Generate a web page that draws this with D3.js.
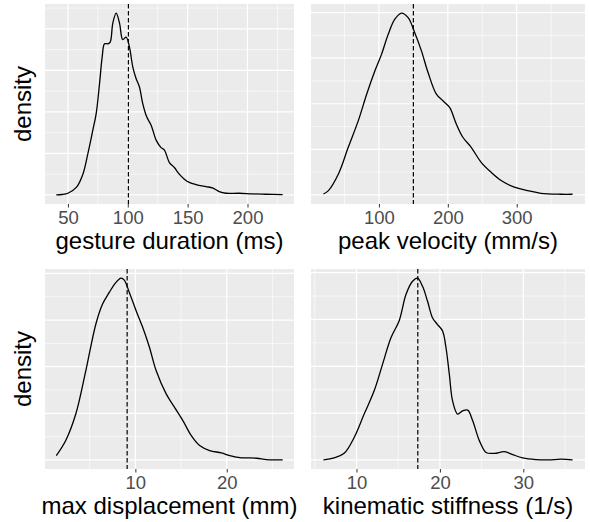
<!DOCTYPE html>
<html>
<head>
<meta charset="utf-8">
<script src="https://cdn.jsdelivr.net/npm/d3@7"></script>
<style>
  body { margin: 0; background: #fff; }
  svg { display: block; font-family: "Liberation Sans", Arial, Helvetica, sans-serif; }
</style>
</head>
<body>
<svg id="chart" width="590" height="522"></svg>
<script>
// gesture duration (ms)
const durationX = [40.3, 45, 50, 57, 62.5, 66.7, 70.8, 73.6, 76.4, 78.6, 80.6, 83.3, 85.3, 87.5, 90.3, 93.1, 95.8, 98.6, 101.4, 104.2, 107, 109.75, 112.5, 115.8, 119.5, 123.7, 127.8, 130.6, 134.75, 138.9, 143, 147.25, 151.4, 157, 165.3, 170.8, 176.4, 182, 193, 204, 215, 229.4];
const durationD = [0, 0.00005, 0.0002, 0.0009, 0.0025, 0.005, 0.0078, 0.0098, 0.0134, 0.0166, 0.0182, 0.0182, 0.0184, 0.0207, 0.0219, 0.0207, 0.0187, 0.019, 0.0178, 0.0154, 0.014, 0.013, 0.011, 0.0094, 0.0084, 0.0066, 0.0057, 0.0054, 0.0039, 0.0033, 0.0025, 0.0019, 0.0015, 0.00124, 0.001, 0.00085, 0.0004, 0.0002, 0.0002, 0.00012, 0.00008, 0.00004];

// peak velocity (mm/s)
const velocityX = [19.5, 26.7, 41.2, 55.6, 70.1, 82.2, 94.2, 103.9, 113.5, 123.1, 132.8, 142.4, 152, 161.7, 171.3, 183.4, 192.9, 202.6, 212.3, 221.8, 233.9, 248.4, 262.9, 277.3, 296.5, 315.8, 335.1, 364, 381];
const velocityD = [0.00004, 0.00019, 0.00092, 0.0021, 0.00326, 0.00442, 0.00545, 0.00618, 0.00705, 0.00771, 0.00798, 0.00778, 0.00712, 0.00632, 0.00537, 0.00442, 0.00413, 0.00384, 0.00311, 0.00253, 0.00209, 0.00143, 0.00099, 0.00063, 0.00034, 0.00019, 0.00007, 0.00003, 0.00003];

// max displacement (mm)
const displacementX = [1.35, 2.38, 3.48, 4.58, 5.68, 6.41, 7.14, 7.88, 8.43, 8.79, 9.34, 10.08, 10.8, 11.54, 12.27, 13.37, 14.29, 15.2, 16.12, 17.03, 18.13, 19.42, 20.33, 21.43, 23.26, 24.36, 26.12];
const displacementD = [0.0023, 0.0104, 0.0246, 0.0479, 0.0729, 0.0836, 0.0898, 0.0952, 0.0975, 0.0964, 0.0898, 0.08, 0.0711, 0.0604, 0.0479, 0.0354, 0.0282, 0.0211, 0.013, 0.0077, 0.005, 0.00375, 0.0023, 0.00125, 0.0009, 0.0002, 0];

// kinematic stiffness (1/s)
const stiffnessX = [6.04, 7.32, 8.52, 9.72, 10.92, 12.12, 13.12, 14.13, 15.13, 15.93, 16.72, 17.32, 17.92, 18.52, 19.12, 19.72, 20.32, 20.73, 21.13, 21.52, 22.12, 22.72, 23.33, 23.93, 24.73, 25.53, 26.53, 27.73, 28.73, 29.93, 31.5, 33, 34.54, 35.9];
const stiffnessD = [0, 0.0011, 0.0035, 0.012, 0.0245, 0.0369, 0.051, 0.0652, 0.0745, 0.0883, 0.0954, 0.0971, 0.0927, 0.0847, 0.0758, 0.0723, 0.0688, 0.0599, 0.0457, 0.0315, 0.0245, 0.0262, 0.0266, 0.0209, 0.0103, 0.004, 0.0035, 0.0044, 0.0028, 0.0011, 0.0002, 0, 0.0004, 0];

// axis titles, mean lines and tick labels
const xTitles = ["gesture duration (ms)", "peak velocity (mm/s)", "max displacement (mm)", "kinematic stiffness (1/s)"];
const meanValues = [100.5, 150, 9.1, 17.35];
const xTickValues = [[50, 100, 150, 200], [100, 200, 300], [10, 20], [10, 20, 30]];
const yTickValues = [
    [0, 0.005, 0.01, 0.015, 0.02],
    [0, 0.002, 0.004, 0.006, 0.008],
    [0, 0.025, 0.05, 0.075, 0.1],
    [0, 0.025, 0.05, 0.075, 0.1]
];

const seriesX = [durationX, velocityX, displacementX, stiffnessX];
const seriesD = [durationD, velocityD, displacementD, stiffnessD];

// panel layout (left, top) + shared size
const panelPos = [[45, 4], [311, 4], [45, 269], [311, 269]];
const panelW = [249, 274, 249, 274];
const panelH = 200;

const svg = d3.select("#chart");

// ggplot style 5% expansion
function expand(ext) {
    const pad = (ext[1] - ext[0]) * 0.05;
    return [ext[0] - pad, ext[1] + pad];
}

// minor breaks halfway between majors, kept inside the domain
function minorBreaks(ticks, domain) {
    const step = ticks.length > 1 ? ticks[1] - ticks[0] : 1;
    const out = [];
    for (let i = -1; i < ticks.length; i++) {
        const v = (i < 0 ? ticks[0] - step : ticks[i]) + step / 2;
        if (v > domain[0] && v < domain[1]) out.push(v);
    }
    return out;
}

seriesX.forEach((xs, i) => {
    const [left, top] = panelPos[i];
    const w = panelW[i];
    const data = xs.map((x, j) => ({ x: x, d: seriesD[i][j] }));

    const xScale = d3.scaleLinear()
        .domain(expand(d3.extent(xs)))
        .range([0, w]);
    const yScale = d3.scaleLinear()
        .domain(expand([0, d3.max(seriesD[i])]))
        .range([panelH, 0]);

    const g = svg.append("g").attr("transform", `translate(${left},${top})`);

    // grey panel
    g.append("rect")
        .attr("width", w)
        .attr("height", panelH)
        .attr("fill", "#EBEBEB");

    // minor grid
    g.selectAll(".minor-x")
        .data(minorBreaks(xTickValues[i], xScale.domain()))
        .enter().append("line")
        .attr("x1", d => xScale(d)).attr("x2", d => xScale(d))
        .attr("y1", 0).attr("y2", panelH)
        .attr("stroke", "#fff").attr("stroke-width", 0.6);
    g.selectAll(".minor-y")
        .data(minorBreaks(yTickValues[i], yScale.domain()))
        .enter().append("line")
        .attr("x1", 0).attr("x2", w)
        .attr("y1", d => yScale(d)).attr("y2", d => yScale(d))
        .attr("stroke", "#fff").attr("stroke-width", 0.6);

    // major grid
    g.selectAll(".major-x")
        .data(xTickValues[i])
        .enter().append("line")
        .attr("x1", d => xScale(d)).attr("x2", d => xScale(d))
        .attr("y1", 0).attr("y2", panelH)
        .attr("stroke", "#fff").attr("stroke-width", 1.2);
    g.selectAll(".major-y")
        .data(yTickValues[i])
        .enter().append("line")
        .attr("x1", 0).attr("x2", w)
        .attr("y1", d => yScale(d)).attr("y2", d => yScale(d))
        .attr("stroke", "#fff").attr("stroke-width", 1.2);

    // density curve
    const line = d3.line()
        .x(d => xScale(d.x))
        .y(d => yScale(d.d))
        .curve(d3.curveCatmullRom.alpha(0.5));
    g.append("path")
        .datum(data)
        .attr("d", line)
        .attr("fill", "none")
        .attr("stroke", "#000")
        .attr("stroke-width", 1.3);

    // mean line
    g.append("line")
        .attr("x1", xScale(meanValues[i])).attr("x2", xScale(meanValues[i]))
        .attr("y1", 0).attr("y2", panelH)
        .attr("stroke", "#000")
        .attr("stroke-width", 1.2)
        .attr("stroke-dasharray", "4.5,2.5");

    // x axis
    const xAxis = d3.axisBottom(xScale)
        .tickValues(xTickValues[i])
        .tickSize(3.5)
        .tickPadding(4);
    const ax = g.append("g")
        .attr("transform", `translate(0,${panelH})`)
        .call(xAxis);
    ax.select(".domain").remove();
    ax.selectAll(".tick line").attr("stroke", "#333").attr("stroke-width", 1);
    ax.selectAll(".tick text")
        .attr("fill", "#4D4D4D")
        .style("font-size", "18.5px")
        .attr("dy", null)
        .attr("y", 20);

    // x title
    g.append("text")
        .attr("x", w / 2)
        .attr("y", panelH + 45)
        .attr("text-anchor", "middle")
        .style("font-size", "24px")
        .attr("fill", "#000")
        .text(xTitles[i]);

    // y title on left column only
    if (i % 2 === 0) {
        svg.append("text")
            .attr("transform", `translate(31,${top + panelH / 2}) rotate(-90)`)
            .attr("text-anchor", "middle")
            .style("font-size", "24px")
            .attr("fill", "#000")
            .text("density");
    }
});
</script>
</body>
</html>
